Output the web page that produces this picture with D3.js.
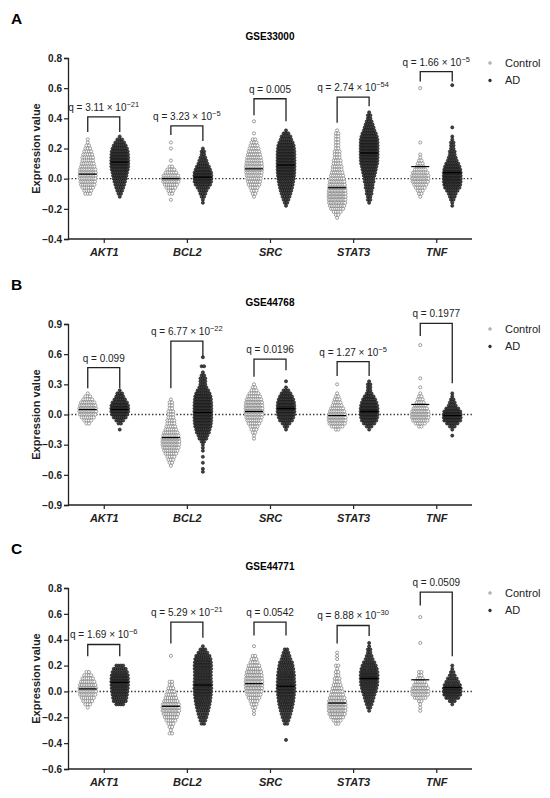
<!DOCTYPE html>
<html>
<head>
<meta charset="utf-8">
<script src="https://cdn.jsdelivr.net/npm/d3@7"></script>
<style>
  body { margin: 0; background: #fff; }
  svg { display: block; font-family: "Liberation Sans", Arial, sans-serif; }
</style>
</head>
<body>
<div id="chart"></div>
<script>
// genes and groups shared by all three panels
const genes = ["AKT1", "BCL2", "SRC", "STAT3", "TNF"];
const groups = ["Control", "AD"];
const panelLetters = ["A", "B", "C"];
const datasets = ["GSE33000", "GSE44768", "GSE44771"];
const yDomains = [[-0.4, 0.8], [-0.9, 0.9], [-0.6, 0.8]];
const yTicks = [
    [-0.4, -0.2, 0, 0.2, 0.4, 0.6, 0.8],
    [-0.9, -0.6, -0.3, 0, 0.3, 0.6, 0.9],
    [-0.6, -0.4, -0.2, 0, 0.2, 0.4, 0.6, 0.8]
];
// dot rows: value of the top row, row step, number of dots per row (top -> bottom)
const binSteps = [0.02, 0.03, 0.025];

// ---- GSE33000 ----
const ctrlTopA = [0.26, 0.24, 0.38, 0.32, 0.60];
const ctrlCountsA = [
    [1,1,2,3,4,5,6,6,7,8,10,11,11,10,9,8,6,4,3],
    [1,0,1,0,0,0,1,0,2,4,6,9,12,10,7,5,3,2,0,1],
    [1,0,0,0,1,0,2,3,4,5,6,7,8,9,10,11,11,10,9,8,7,6,4,3,2,1],
    [1,2,2,2,2,2,2,3,3,3,4,4,5,5,6,7,8,9,10,11,12,13,13,12,11,9,7,4,2,1],
    [1,0,0,0,0,0,0,0,0,0,0,0,0,0,0,0,0,0,1,0,0,0,1,1,2,3,4,6,9,11,12,10,7,5,3,2,1]
];
const adTopA = [0.28, 0.20, 0.32, 0.44, 0.62];
const adCountsA = [
    [1,3,5,7,9,11,12,13,14,14,13,11,9,8,7,6,5,4,3,2,1],
    [1,2,2,3,4,5,7,9,12,14,14,12,9,6,4,3,2,1,1],
    [1,3,5,6,8,10,11,12,13,13,14,14,14,13,12,11,10,9,8,7,6,5,4,3,2,1],
    [1,2,2,3,4,5,6,8,10,12,13,14,14,14,14,13,12,11,9,8,7,6,5,5,4,4,3,3,2,2,1],
    [1,0,0,0,0,0,0,0,0,0,0,0,0,0,1,0,0,1,1,2,2,2,3,3,4,5,7,9,11,13,14,14,13,11,9,6,4,3,2,1,1]
];
const ctrlMidA = [0.03, 0.0, 0.065, -0.06, 0.08];
const adMidA = [0.11, 0.01, 0.09, 0.17, 0.04];
const bracketA = [[0.41, 0.31, 0.31], [0.35, 0.29, 0.25], [0.53, 0.42, 0.38], [0.54, 0.37, 0.48], [0.71, 0.645, 0.645]];
const qA = [["3.11", "−21"], ["3.23", "−5"], ["0.005", ""], ["2.74", "−54"], ["1.66", "−5"]];

// ---- GSE44768 ----
const ctrlTopB = [0.21, 0.15, 0.30, 0.30, 0.69];
const ctrlCountsB = [
    [1,3,5,8,10,13,13,10,7,4,2],
    [1,2,2,2,3,3,3,4,4,5,6,8,10,12,13,12,10,8,6,4,3,2,1],
    [1,2,3,5,7,9,11,12,13,13,12,10,8,6,4,3,2,1,1],
    [1,0,0,1,2,3,4,5,7,9,11,13,12,10,6,2],
    [1,0,0,0,0,0,0,0,0,0,0,1,0,0,1,0,1,2,3,4,6,8,11,13,12,9,5,2]
];
const adTopB = [0.24, 0.57, 0.33, 0.33, 0.21];
const adCountsB = [
    [1,3,4,6,9,12,14,13,10,7,4,2,0,1],
    [1,0,0,2,0,1,2,3,3,3,4,6,8,10,11,12,13,13,14,14,13,12,11,10,8,7,5,4,2,1,1,1,0,1,0,1,0,1,1],
    [1,0,1,3,5,7,9,11,12,13,13,11,9,7,4,2,1],
    [1,2,2,2,3,5,7,9,11,13,14,13,11,9,6,3,1],
    [1,1,2,3,4,7,11,14,14,11,6,3,1,0,1]
];
const ctrlMidB = [0.05, -0.23, 0.03, -0.01, 0.10];
const adMidB = [0.05, 0.02, 0.06, 0.03, -0.01];
const bracketB = [[0.466, 0.26, 0.26], [0.73, 0.26, 0.575], [0.55, 0.376, 0.44], [0.525, 0.383, 0.383], [0.907, 0.78, 0.31]];
const qB = [["0.099", ""], ["6.77", "−22"], ["0.0196", ""], ["1.27", "−5"], ["0.1977", ""]];

// ---- GSE44771 ----
const ctrlTopC = [0.15, 0.275, 0.35, 0.30, 0.575];
const ctrlCountsC = [
    [2,4,6,8,10,12,12,10,7,5,3,1],
    [1,0,0,0,0,0,0,0,2,2,3,4,5,6,8,11,13,12,9,7,5,3,2,1,2],
    [1,0,0,2,3,4,6,7,9,10,11,12,12,11,10,8,6,4,3,2,1,1],
    [1,1,1,0,2,1,2,2,3,3,4,5,6,7,9,11,13,13,12,10,7,4,2],
    [1,0,0,0,0,0,0,0,1,0,0,0,0,0,0,0,0,2,2,3,5,7,10,12,10,6,2,1,1,1]
];
const adTopC = [0.20, 0.35, 0.325, 0.375, 0.20];
const adCountsC = [
    [4,7,9,11,12,13,12,11,10,9,8,7,4],
    [1,3,5,8,10,11,12,12,11,11,11,12,13,13,12,11,10,9,8,7,6,5,4,3,2],
    [2,3,4,5,7,8,9,10,11,11,12,13,13,12,11,10,9,8,7,6,5,4,3,2,0,0,0,0,1],
    [1,1,2,2,3,4,6,8,10,12,13,13,12,11,9,8,6,5,4,3,2,1],
    [1,1,2,3,5,7,10,13,14,11,7,3,1]
];
const ctrlMidC = [0.02, -0.115, 0.06, -0.09, 0.09];
const adMidC = [0.07, 0.05, 0.04, 0.10, 0.03];
const bracketC = [[0.363, 0.273, 0.273], [0.536, 0.37, 0.415], [0.536, 0.433, 0.433], [0.51, 0.37, 0.428], [0.768, 0.665, 0.273]];
const qC = [["1.69", "−6"], ["5.29", "−21"], ["0.0542", ""], ["8.88", "−30"], ["0.0509", ""]];

const panels = [
    { ctrlTop: ctrlTopA, ctrlCounts: ctrlCountsA, adTop: adTopA, adCounts: adCountsA, ctrlMid: ctrlMidA, adMid: adMidA, bracket: bracketA, q: qA },
    { ctrlTop: ctrlTopB, ctrlCounts: ctrlCountsB, adTop: adTopB, adCounts: adCountsB, ctrlMid: ctrlMidB, adMid: adMidB, bracket: bracketB, q: qB },
    { ctrlTop: ctrlTopC, ctrlCounts: ctrlCountsC, adTop: adTopC, adCounts: adCountsC, ctrlMid: ctrlMidC, adMid: adMidC, bracket: bracketC, q: qC }
];

const width = 550, height = 798;
const plotLeft = 68, plotRight = 472, plotH = 181;
const panelTops = [58, 324, 588];
const groupOffset = 16;
const axisColor = "#222";

const svg = d3.select("#chart").append("svg")
    .attr("width", width)
    .attr("height", height);

const x = d3.scalePoint().domain(genes).range([plotLeft, plotRight]).padding(0.43);

// spread the dots of one row sideways, tighter when the row is long
function rowDots(center, yv, n) {
    const s = Math.max(1.3, 2.6 - 0.1 * (n - 1));
    return d3.range(n).map(k => ({ cx: center + (k - (n - 1) / 2) * s, cy: yv }));
}

panels.forEach((p, pi) => {
    const top = panelTops[pi];
    const y = d3.scaleLinear().domain(yDomains[pi]).range([top + plotH, top]);
    const g = svg.append("g");
    const step = binSteps[pi];

    // panel letter and title
    g.append("text").attr("x", 11).attr("y", top - 34)
        .attr("font-size", 15.5).attr("font-weight", "bold").text(panelLetters[pi]);
    g.append("text").attr("x", (plotLeft + plotRight) / 2).attr("y", top - 18).attr("text-anchor", "middle")
        .attr("font-size", 10).attr("font-weight", "bold").text(datasets[pi]);

    // dotted zero line
    g.append("line")
        .attr("x1", plotLeft).attr("x2", plotRight)
        .attr("y1", y(0)).attr("y2", y(0))
        .attr("stroke", "#333").attr("stroke-width", 1.4)
        .attr("stroke-dasharray", "1.4,2.1");

    // dots
    const dotsG = g.append("g");
    genes.forEach((gene, gi) => {
        [["ctrl", -groupOffset], ["ad", groupOffset]].forEach(([key, off]) => {
            const topV = p[key + "Top"][gi];
            const counts = p[key + "Counts"][gi];
            const cxBase = x(gene) + off;
            const dots = [];
            counts.forEach((n, i) => {
                if (n > 0) dots.push(...rowDots(cxBase, y(topV - i * step), n));
            });
            const sel = dotsG.append("g").selectAll("circle").data(dots).join("circle")
                .attr("cx", d => d.cx).attr("cy", d => d.cy).attr("r", 1.55);
            if (key === "ctrl") {
                sel.attr("fill", "#fff").attr("stroke", "#7f7f7f").attr("stroke-width", 0.75);
            } else {
                sel.attr("fill", "#444").attr("stroke", "#111").attr("stroke-width", 0.6);
            }
            // centre line
            const mid = p[key + "Mid"][gi];
            g.append("line")
                .attr("x1", cxBase - 9).attr("x2", cxBase + 9)
                .attr("y1", y(mid)).attr("y2", y(mid))
                .attr("stroke", "#000").attr("stroke-width", 1.2);
        });

        // significance bracket
        const [bt, bl, br] = p.bracket[gi];
        const xl = x(gene) - groupOffset, xr = x(gene) + groupOffset;
        g.append("path")
            .attr("d", `M${xl},${y(bl)}V${y(bt)}H${xr}V${y(br)}`)
            .attr("fill", "none").attr("stroke", "#222").attr("stroke-width", 1.3);
        const [mant, expo] = p.q[gi];
        const qt = g.append("text")
            .attr("x", x(gene)).attr("y", y(bt) - 6)
            .attr("text-anchor", "middle").attr("font-size", 10).attr("fill", "#222");
        if (expo) {
            qt.append("tspan").text(`q = ${mant} × 10`);
            qt.append("tspan").attr("dy", -4).attr("font-size", 7.5).text(expo);
        } else {
            qt.text(`q = ${mant}`);
        }
    });

    // y axis
    const yAxis = g.append("g")
        .attr("transform", `translate(${plotLeft},0)`)
        .call(d3.axisLeft(y).tickValues(yTicks[pi]).tickFormat(d3.format(".1f")).tickSize(4).tickPadding(2));
    yAxis.select(".domain").attr("stroke", axisColor).attr("stroke-width", 1.3);
    yAxis.selectAll(".tick line").attr("stroke", axisColor).attr("stroke-width", 1.2);
    yAxis.selectAll(".tick text").attr("font-size", 10).attr("font-weight", "bold")
        .attr("fill", "#222").attr("font-family", "Liberation Sans, Arial, sans-serif");

    // x axis
    const xAxis = g.append("g")
        .attr("transform", `translate(0,${top + plotH})`)
        .call(d3.axisBottom(x).tickSize(4).tickSizeOuter(0).tickPadding(5));
    xAxis.select(".domain").attr("stroke", axisColor).attr("stroke-width", 1.3)
        .attr("d", `M${plotLeft},0H${plotRight}`);
    xAxis.selectAll(".tick line").attr("stroke", axisColor).attr("stroke-width", 1.2);
    xAxis.selectAll(".tick text").attr("font-size", 11).attr("font-weight", "bold")
        .attr("font-style", "italic").attr("fill", "#222")
        .attr("font-family", "Liberation Sans, Arial, sans-serif");

    // y label
    g.append("text")
        .attr("transform", `translate(36,${top + plotH / 2}) rotate(-90)`)
        .attr("text-anchor", "middle").attr("dy", "0.35em")
        .attr("font-size", 11).attr("font-weight", "bold").attr("fill", "#222")
        .text("Expression value");

    // legend
    groups.forEach((name, i) => {
        const ly = top + 5 + i * 17.5;
        const c = g.append("circle").attr("cx", 490).attr("cy", ly).attr("r", 1.4);
        if (i === 0) c.attr("fill", "#bbb").attr("stroke", "#999").attr("stroke-width", 0.5);
        else c.attr("fill", "#333").attr("stroke", "#111").attr("stroke-width", 0.5);
        g.append("text").attr("x", 505).attr("y", ly).attr("dy", "0.35em")
            .attr("font-size", 11).attr("fill", "#222").text(name);
    });
});
</script>
</body>
</html>
